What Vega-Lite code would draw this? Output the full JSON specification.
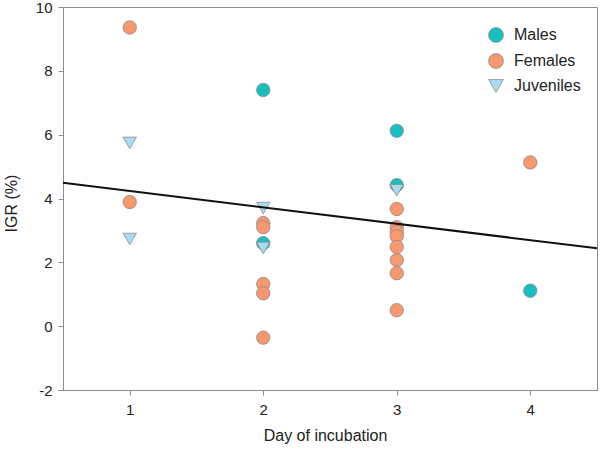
{
  "$schema": "https://vega.github.io/schema/vega-lite/v6.json",
  "width": 534,
  "height": 383,
  "autosize": "none",
  "padding": {"left": 63, "top": 7, "right": 3, "bottom": 66},
  "config": {
    "font": "Liberation Sans",
    "view": {"stroke": "#8c8c8c", "strokeWidth": 1},
    "axis": {
      "grid": false,
      "domainColor": "#8c8c8c",
      "tickColor": "#8c8c8c",
      "labelColor": "#222222",
      "titleColor": "#222222",
      "labelFont": "Liberation Sans",
      "titleFont": "Liberation Sans",
      "labelFontSize": 15,
      "titleFontSize": 16,
      "titleFontWeight": "normal",
      "tickSize": 5
    }
  },
  "datasets": {
    "points": [
      {"day": 1, "igr": 9.36, "group": "Females"},
      {"day": 1, "igr": 3.89, "group": "Females"},
      {"day": 1, "igr": 5.74, "group": "Juveniles"},
      {"day": 1, "igr": 2.73, "group": "Juveniles"},
      {"day": 2, "igr": 7.40, "group": "Males"},
      {"day": 2, "igr": 2.60, "group": "Males"},
      {"day": 2, "igr": 3.23, "group": "Females"},
      {"day": 2, "igr": 3.10, "group": "Females"},
      {"day": 2, "igr": 1.32, "group": "Females"},
      {"day": 2, "igr": 1.03, "group": "Females"},
      {"day": 2, "igr": -0.36, "group": "Females"},
      {"day": 2, "igr": 3.70, "group": "Juveniles"},
      {"day": 2, "igr": 2.45, "group": "Juveniles"},
      {"day": 3, "igr": 6.12, "group": "Males"},
      {"day": 3, "igr": 4.42, "group": "Males"},
      {"day": 3, "igr": 3.67, "group": "Females"},
      {"day": 3, "igr": 3.10, "group": "Females"},
      {"day": 3, "igr": 2.95, "group": "Females"},
      {"day": 3, "igr": 2.82, "group": "Females"},
      {"day": 3, "igr": 2.48, "group": "Females"},
      {"day": 3, "igr": 2.07, "group": "Females"},
      {"day": 3, "igr": 1.66, "group": "Females"},
      {"day": 3, "igr": 0.50, "group": "Females"},
      {"day": 3, "igr": 4.26, "group": "Juveniles"},
      {"day": 4, "igr": 5.13, "group": "Females"},
      {"day": 4, "igr": 1.11, "group": "Males"}
    ],
    "fit": [
      {"day": 0.5, "igr": 4.49},
      {"day": 4.5, "igr": 2.44}
    ]
  },
  "layer": [
    {
      "data": {"name": "points"},
      "mark": {"type": "point", "filled": true, "size": 180, "stroke": "#8a8a8a", "strokeWidth": 0.8, "opacity": 1},
      "encoding": {
        "x": {
          "field": "day", "type": "quantitative",
          "scale": {"domain": [0.5, 4.5], "nice": false, "zero": false},
          "axis": {"values": [1, 2, 3, 4], "labelExpr": "'' + datum.value", "title": "Day of incubation", "labelPadding": 7, "titleX": 262, "titleY": 37, "labelFlush": false}
        },
        "y": {
          "field": "igr", "type": "quantitative",
          "scale": {"domain": [-2, 10], "nice": false, "zero": false},
          "axis": {"values": [-2, 0, 2, 4, 6, 8, 10], "labelExpr": "'' + datum.value", "title": "IGR (%)", "titleFontSize": 16, "labelPadding": 6, "titleX": -44, "titleY": 196, "labelFlush": false}
        },
        "color": {
          "field": "group", "type": "nominal",
          "scale": {"domain": ["Males", "Females", "Juveniles"], "range": ["#17bfbf", "#f8986f", "#a9dcf1"]},
          "legend": {
            "title": null, "orient": "none", "legendX": 425, "legendY": 20,
            "labelFontSize": 16, "labelFont": "Liberation Sans", "labelColor": "#222222",
            "symbolSize": 220, "rowPadding": 6, "labelOffset": 10,
            "symbolStrokeColor": "#8a8a8a", "symbolStrokeWidth": 0.8
          }
        },
        "shape": {
          "field": "group", "type": "nominal",
          "scale": {"domain": ["Males", "Females", "Juveniles"], "range": ["circle", "circle", "triangle-down"]},
          "legend": {
            "title": null, "orient": "none", "legendX": 425, "legendY": 20,
            "labelFontSize": 16, "labelFont": "Liberation Sans", "labelColor": "#222222",
            "symbolSize": 220, "rowPadding": 6, "labelOffset": 10,
            "symbolStrokeColor": "#8a8a8a", "symbolStrokeWidth": 0.8
          }
        },
        "order": {"field": "group", "sort": "descending"}
      }
    },
    {
      "data": {"name": "fit"},
      "mark": {"type": "line", "color": "#111111", "strokeWidth": 2},
      "encoding": {
        "x": {"field": "day", "type": "quantitative"},
        "y": {"field": "igr", "type": "quantitative"}
      }
    }
  ]
}
